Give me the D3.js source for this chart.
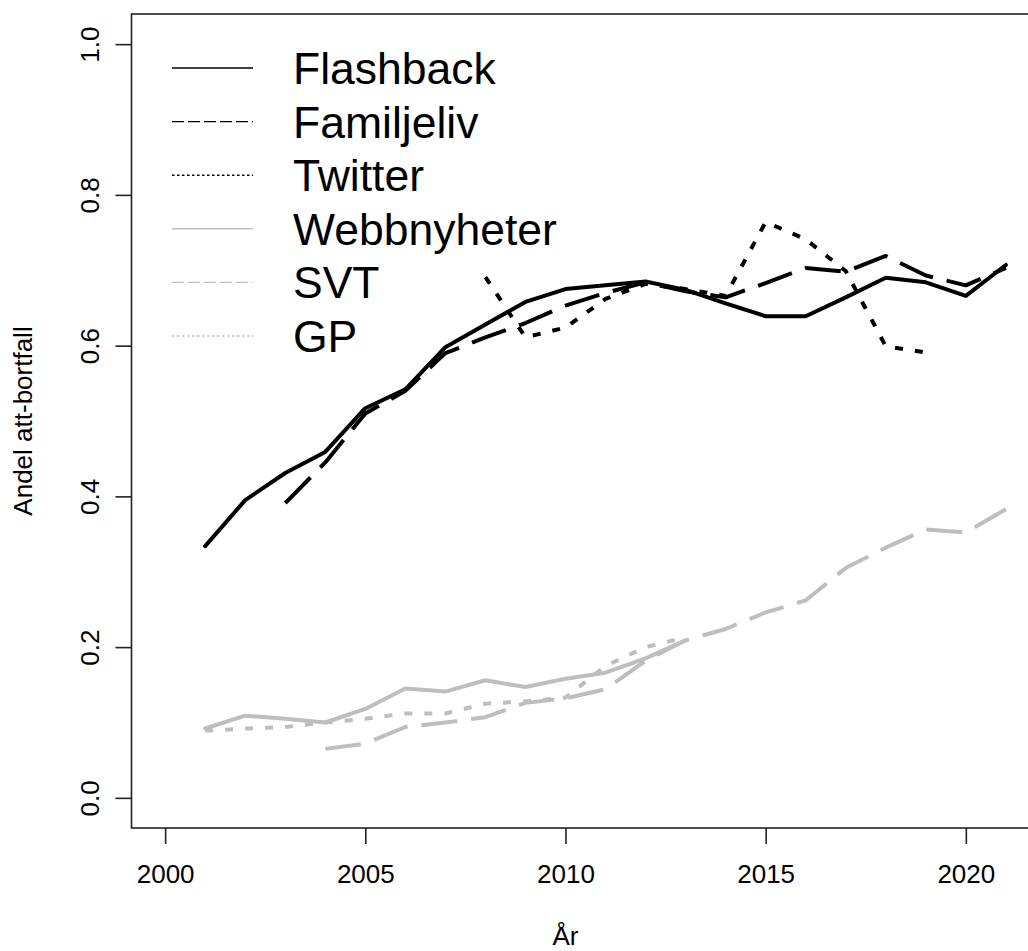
<!DOCTYPE html>
<html><head><meta charset="utf-8">
<script src="https://cdn.jsdelivr.net/npm/d3@7"></script>
<style>body{margin:0;background:#fff}svg{display:block}text{font-family:"Liberation Sans",Arial,sans-serif}</style>
</head><body><svg id="c" width="1028" height="951"></svg>
<script>
const years = d3.range(2001, 2022);
const flashback = [0.334,0.395,0.431,0.459,0.517,0.542,0.598,0.628,0.658,0.675,0.680,0.685,0.674,0.656,0.639,0.639,0.664,0.690,0.684,0.666,0.707];
const familjelivYears = d3.range(2003, 2022);
const familjeliv = [0.391,0.445,0.510,0.540,0.590,0.611,0.630,0.653,0.670,0.684,0.672,0.664,0.683,0.703,0.698,0.719,0.693,0.680,0.703];
const twitterYears = d3.range(2008, 2020);
const twitter = [0.691,0.611,0.624,0.662,0.682,0.675,0.666,0.764,0.741,0.699,0.599,0.591];
const webbYears = d3.range(2001, 2014);
const webbnyheter = [0.092,0.109,0.105,0.100,0.118,0.145,0.141,0.156,0.147,0.158,0.166,0.185,0.209];
const svtYears = d3.range(2004, 2022);
const svt = [0.065,0.072,0.094,0.100,0.107,0.126,0.132,0.144,0.182,0.209,0.224,0.246,0.262,0.305,0.332,0.356,0.352,0.383];
const gpYears = d3.range(2001, 2014);
const gp = [0.089,0.092,0.094,0.100,0.105,0.112,0.112,0.125,0.128,0.133,0.175,0.200,0.213];
const xTicks = [2000, 2005, 2010, 2015, 2020];
const yTicks = [0.0, 0.2, 0.4, 0.6, 0.8, 1.0];
const legendLabels = ["Flashback","Familjeliv","Twitter","Webbnyheter","SVT","GP"];

const svg = d3.select("#c");
const x = d3.scaleLinear().domain([1999.16, 2021.84]).range([131.5, 1039.5]);
const y = d3.scaleLinear().domain([-0.04, 1.04]).range([828, 14]);

const series = [
  {yrs: years, vals: flashback, color:"#000", dash:null},
  {yrs: familjelivYears, vals: familjeliv, color:"#000", dash:"36,14"},
  {yrs: twitterYears, vals: twitter, color:"#000", dash:"8,12"},
  {yrs: webbYears, vals: webbnyheter, color:"#bebebe", dash:null},
  {yrs: svtYears, vals: svt, color:"#bebebe", dash:"36,14"},
  {yrs: gpYears, vals: gp, color:"#bebebe", dash:"8,12"}
];
const legDash = [null,"12,4","2.5,2.5",null,"12,4","2.5,2.5"];

const line = d3.line().x(d=>x(d[0])).y(d=>y(d[1]));
const order = [3,4,5,0,1,2];
order.forEach(i=>{
  const s = series[i];
  svg.append("path").datum(s.yrs.map((yr,j)=>[yr,s.vals[j]]))
    .attr("d", line).attr("fill","none").attr("stroke", s.color)
    .attr("stroke-width", 4).attr("stroke-linejoin","round")
    .attr("stroke-linecap", s.dash ? "butt" : "round")
    .attr("stroke-dasharray", s.dash);
});

// box
svg.append("rect").attr("x",131.5).attr("y",14).attr("width",1039.5-131.5).attr("height",828-14)
  .attr("fill","none").attr("stroke","#222").attr("stroke-width",1.6);

// x axis
const xa = svg.append("g").attr("transform","translate(0,828)")
  .call(d3.axisBottom(x).tickValues(xTicks).tickFormat(d3.format("d")).tickSize(16).tickPadding(21));
xa.select(".domain").remove();
xa.selectAll("line").attr("stroke","#222").attr("stroke-width",1.6);
xa.selectAll("text").attr("font-size",26).attr("fill","#000").attr("font-family","Liberation Sans, Arial, sans-serif");

// y axis
const ya = svg.append("g").attr("transform","translate(131.5,0)")
  .call(d3.axisLeft(y).tickValues(yTicks).tickFormat(d3.format(".1f")).tickSize(16));
ya.select(".domain").remove();
ya.selectAll("line").attr("stroke","#222").attr("stroke-width",1.6);
ya.selectAll("text").attr("font-size",26).attr("fill","#000").attr("font-family","Liberation Sans, Arial, sans-serif")
  .attr("x",null).attr("dy",null).attr("text-anchor","middle")
  .attr("transform","translate(-33,0) rotate(-90)");

// axis titles
svg.append("text").attr("x",x(2010)).attr("y",945).attr("text-anchor","middle").attr("font-size",26).text("År");
svg.append("text").attr("transform",`translate(32,${(14+828)/2}) rotate(-90)`).attr("text-anchor","middle").attr("font-size",26).text("Andel att-bortfall");

// legend
const lg = svg.append("g");
legendLabels.forEach((lab,i)=>{
  const ly = 68 + i*53.6;
  lg.append("line").attr("x1",172).attr("x2",253).attr("y1",ly).attr("y2",ly)
    .attr("stroke", series[i].color).attr("stroke-width",1.4).attr("stroke-dasharray", legDash[i]);
  lg.append("text").attr("x",293).attr("y",ly+16).attr("font-size",44.5).attr("fill","#000").text(lab);
});
</script></body></html>
